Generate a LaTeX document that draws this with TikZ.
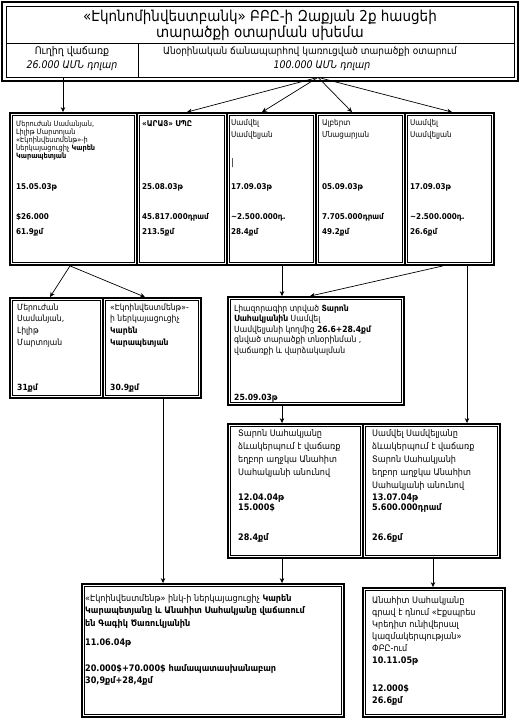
\documentclass[tikz,border=0pt]{standalone}
\usepackage{fontspec}
\setmainfont{DejaVu Sans}[FakeStretch=0.9]
\usetikzlibrary{arrows.meta}
\tikzset{
  boxf/.style={draw, line width=1.8pt, inner sep=0,
    path picture={\draw[line width=0.7pt] ([shift={(2.8pt,-2.8pt)}]path picture bounding box.north west) rectangle ([shift={(-2.8pt,2.8pt)}]path picture bounding box.south east);}},
  cellf/.style={draw, line width=0.7pt, inner sep=0},
  arr/.style={-{Stealth[length=5pt,width=4.5pt]}, line width=0.7pt},
}
\newcommand{\mkbox}[6]{\node[#6, minimum width={(#4-#2)*1pt}, minimum height={(#5-#3)*1pt}] (#1) at ({(#2+#4)/2},{(#3+#5)/2}) {};}
\newcommand{\blk}[6]{\node[anchor=north west, inner sep=0, align=left, font=\fontsize{#4}{#5}\selectfont] (#1) at (#2,{#3-0.8*#4}) {\rule{0pt}{0.8em}#6};}
\newcommand{\bnum}[5]{\node[anchor=base west, inner sep=0, font=\fontsize{#4}{#4}\selectfont\bfseries] (#1) at (#2,#3) {#5};}
\begin{document}
\begin{tikzpicture}[x=1pt,y=-1pt]
\fill[white] (0,0) rectangle (520,727);
\useasboundingbox (0,0) rectangle (520,727);
% title box
\node[draw, line width=2pt, inner sep=0, minimum width=516pt, minimum height=79pt,
  path picture={\draw[line width=0.7pt] ([shift={(4pt,-4pt)}]path picture bounding box.north west) rectangle ([shift={(-4pt,4pt)}]path picture bounding box.south east);}] (T) at (260,41.5) {};
\mkbox{TL}{6}{43}{138}{77}{cellf}
\mkbox{TR}{138}{43}{514}{77}{cellf}
\node[anchor=base, inner sep=0, font=\fontsize{15}{18}\selectfont] (ti1) at (260,22) {«Էկոնոմինվեստբանկ» ԲԲԸ-ի Զաքյան 2ք հասցեի};
\node[anchor=base, inner sep=0, font=\fontsize{15}{18}\selectfont] (ti2) at (260,38) {տարածքի օտարման սխեմա};
\node[anchor=base, inner sep=0, font=\fontsize{10.5}{12}\selectfont] (hl1) at (72,55) {Ուղիղ վաճառք};
\node[anchor=base, inner sep=0, font=\fontsize{10.5}{12}\selectfont\itshape] (hl2) at (72,69) {26.000 ԱՄՆ դոլար};
\node[anchor=base, inner sep=0, font=\fontsize{10}{12}\selectfont] (hr1) at (310,55) {Անօրինական ճանապարհով կառուցված տարածքի օտարում};
\node[anchor=base, inner sep=0, font=\fontsize{10.5}{12}\selectfont\itshape] (hr2) at (322,69) {100.000 ԱՄՆ դոլար};
% row 1
\mkbox{B1}{10}{113}{137}{265}{boxf}
\mkbox{B2}{137}{113}{227}{265}{boxf}
\mkbox{B3}{227}{113}{316}{265}{boxf}
\mkbox{B4}{316}{113}{405}{265}{boxf}
\mkbox{B5}{405}{113}{494}{265}{boxf}
\blk{b1t}{16}{126}{7.3}{8}{Մերուժան Սամանյան,\\Լիլիթ Մարտոյան\\«Էկոինվեստմենթ»-ի\\ներկայացուցիչ \textbf{Կարեն}\\\textbf{Կարապետյան}}
\bnum{b1d}{16}{190}{8}{15.05.03թ}
\bnum{b1m}{16}{219}{8}{\$26.000}
\bnum{b1a}{16}{234}{8}{61.9քմ}
\blk{b2t}{142}{126}{8}{12}{\textbf{«ԱՐԱՅ» ՍՊԸ}}
\bnum{b2d}{142}{190}{8}{25.08.03թ}
\bnum{b2m}{142}{219}{8}{45.817.000դրամ}
\bnum{b2a}{142}{234}{8}{213.5քմ}
\blk{b3t}{231}{125}{8}{12}{Սամվել\\Սամվելյան}
\node[anchor=base west, inner sep=0, font=\fontsize{9}{9}\selectfont] (b3c) at (231,166) {|};
\bnum{b3d}{231}{190}{8}{17.09.03թ}
\bnum{b3m}{231}{219}{8}{\textasciitilde2.500.000դ.}
\bnum{b3a}{231}{234}{8}{28.4քմ}
\blk{b4t}{322}{125}{8}{12}{Ալբերտ\\Մնացարյան}
\bnum{b4d}{322}{190}{8}{05.09.03թ}
\bnum{b4m}{322}{219}{8}{7.705.000դրամ}
\bnum{b4a}{322}{234}{8}{49.2քմ}
\blk{b5t}{410}{125}{8}{12}{Սամվել\\Սամվելյան}
\bnum{b5d}{410}{190}{8}{17.09.03թ}
\bnum{b5m}{410}{219}{8}{\textasciitilde2.500.000դ.}
\bnum{b5a}{410}{234}{8}{26.6քմ}
% row 2
\mkbox{C1}{10}{298}{103}{398}{boxf}
\mkbox{C2}{103}{298}{201}{398}{boxf}
\mkbox{C3}{228}{297}{404}{405}{boxf}
\blk{c1t}{17}{310}{8.5}{11.7}{Մերուժան\\Սամանյան,\\Լիլիթ\\Մարտոյան}
\bnum{c1a}{17}{390}{8.5}{31քմ}
\blk{c2t}{110}{310}{8.5}{11.7}{«Էկոինվեստմենթ»-\\ի ներկայացուցիչ\\\textbf{Կարեն}\\\textbf{Կարապետյան}}
\bnum{c2a}{110}{390}{8.5}{30.9քմ}
\blk{c3t}{234}{311}{8.5}{10.5}{Լիազորագիր տրված \textbf{Տարոն}\\\textbf{Սահակյանին} Սամվել\\Սամվելյանի կողմից \textbf{26.6+28.4քմ}\\գնված տարածքի տնօրինման ,\\վաճառքի և վարձակալման}
\bnum{c3d}{234}{400}{8.5}{25.09.03թ}
% row 3
\mkbox{D1}{228}{424}{363}{558}{boxf}
\mkbox{D2}{363}{424}{500}{558}{boxf}
\blk{d1t}{238}{436}{9}{13}{Տարոն Սահակյանը\\ձևակերպում է վաճառք\\եղբոր աղջկա Անահիտ\\Սահակյանի անունով}
\bnum{d1d}{238}{500}{9}{12.04.04թ}
\bnum{d1m}{238}{510}{9}{15.000\$}
\bnum{d1a}{238}{540}{9}{28.4քմ}
\blk{d2t}{372}{436}{9}{13}{Սամվել Սամվելյանը\\ձևակերպում է վաճառք\\Տարոն Սահակյանի\\եղբոր աղջկա Անահիտ\\Սահակյանի անունով}
\bnum{d2d}{372}{500}{9}{13.07.04թ}
\bnum{d2m}{372}{510}{9}{5.600.000դրամ}
\bnum{d2a}{372}{540}{9}{26.6քմ}
% row 4
\mkbox{E1}{82}{584}{344}{717}{boxf}
\mkbox{E2}{363}{588}{505}{717}{boxf}
\blk{e1t}{85}{601}{9}{12.5}{«Էկոինվեստմենթ» ինկ-ի ներկայացուցիչ \textbf{Կարեն}\\\textbf{Կարապետյանը և Անահիտ Սահակյանը վաճառում}\\\textbf{են Գագիկ Ծառուկյանին}}
\bnum{e1d}{85}{645}{9}{11.06.04թ}
\bnum{e1m}{85}{671}{9}{20.000\$+70.000\$ համապատասխանաբար}
\bnum{e1a}{85}{683}{9}{30,9քմ+28,4քմ}
\blk{e2t}{372}{603}{9}{12}{Անահիտ Սահակյանը\\գրավ է դնում «Էքսպրես\\Կրեդիտ ունիվերսալ\\կազմակերպության»\\ՓԲԸ-ում}
\bnum{e2d}{372}{663}{9}{10.11.05թ}
\bnum{e2m}{372}{691}{9}{12.000\$}
\bnum{e2a}{372}{703}{9}{26.6քմ}
% connectors
\draw[arr] ([xshift=-9]TL.south) -- ([xshift=-10.5]B1.north);
\draw[arr] ([xshift=-8]TR.south) -- ([xshift=5]B2.north);
\draw[arr] ([xshift=-8]TR.south) -- ([xshift=-9.5]B3.north);
\draw[arr] ([xshift=-8]TR.south) -- ([xshift=-8.5]B4.north);
\draw[arr] ([xshift=-8]TR.south) -- ([xshift=2.5]B5.north);
\draw[arr] ([xshift=-3.5]B1.south) -- ([xshift=-6.5]C1.north);
\draw[arr] ([xshift=-3.5]B1.south) -- ([xshift=-7]C2.north);
\draw[arr] ([xshift=10.5]B3.south) -- ([xshift=-34]C3.north);
\draw[arr] ([xshift=-6.5]B5.south) -- ([xshift=-6]C3.north);
\draw[arr] ([xshift=17.5]B5.south) -- ([xshift=35.5]D2.north);
\draw[arr] ([xshift=-34]C3.south) -- ([xshift=-13.5]D1.north);
\draw[arr] ([xshift=11]C2.south) -- ([xshift=-50]E1.north);
\draw[arr] ([xshift=-13.5]D1.south) -- ([xshift=69]E1.north);
\draw[arr] ([xshift=1.5]D2.south) -- ([xshift=-1]E2.north);
\end{tikzpicture}
\end{document}
